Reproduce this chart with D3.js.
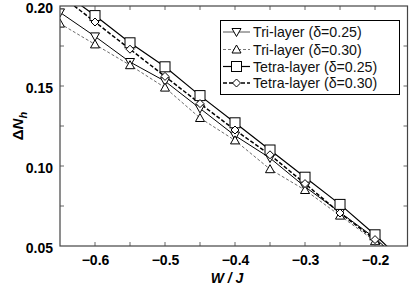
<!DOCTYPE html>
<html><head><meta charset="utf-8">
<script src="https://cdn.jsdelivr.net/npm/d3@7"></script>
<style>body{margin:0;background:#fff}svg{display:block}text{font-family:"Liberation Sans",Arial,sans-serif}</style>
</head><body><svg id="c" width="409" height="287"></svg>
<script>
const W = [-0.65,-0.6,-0.55,-0.5,-0.45,-0.4,-0.35,-0.3,-0.25,-0.2,-0.15];
const triA = [0.196,0.181,0.165,0.153,0.136,0.119,0.105,0.087,0.071,0.055,0.035];
const triB = [0.189,0.176,0.163,0.149,0.130,0.116,0.098,0.085,0.069,0.053,0.034];
const tetA = [0.210,0.194,0.177,0.162,0.144,0.127,0.110,0.093,0.076,0.057,0.036];
const tetB = [0.207,0.190,0.173,0.156,0.139,0.1225,0.107,0.089,0.0706,0.054,0.034];
const seriesNames = ["Tri-layer (δ=0.25)","Tri-layer (δ=0.30)","Tetra-layer (δ=0.25)","Tetra-layer (δ=0.30)"];
const xTicks = [-0.6,-0.5,-0.4,-0.3,-0.2];
const yTicks = [0.05,0.10,0.15,0.20];

const svg = d3.select("#c");
const L=60,R=407.5,T=6,B=246;
const x = d3.scaleLinear().domain([-0.65,-0.1536]).range([L,R]);
const y = d3.scaleLinear().domain([0.05,0.20]).range([B,T]);

const styles = [
 {vals:triA, stroke:"#000", w:1, dash:null, sym:"down"},
 {vals:triB, stroke:"#444", w:0.8, dash:"3,2", sym:"up"},
 {vals:tetA, stroke:"#000", w:1.2, dash:null, sym:"square"},
 {vals:tetB, stroke:"#000", w:1.5, dash:"4,2", sym:"diamond"}
];

svg.append("defs").append("clipPath").attr("id","clip").append("rect")
  .attr("x",L).attr("y",T).attr("width",R-L).attr("height",B-T);

function marker(g, sym, cx, cy){
  if(sym==="square") g.append("rect").attr("x",cx-5).attr("y",cy-5).attr("width",10).attr("height",10);
  else if(sym==="down") g.append("path").attr("d",`M${cx-4.5},${cy-3.5}L${cx+4.5},${cy-3.5}L${cx},${cy+4.5}Z`);
  else if(sym==="up") g.append("path").attr("d",`M${cx-4.5},${cy+3.5}L${cx+4.5},${cy+3.5}L${cx},${cy-4.5}Z`);
  else g.append("path").attr("d",`M${cx},${cy-4}L${cx+4},${cy}L${cx},${cy+4}L${cx-4},${cy}Z`);
}

const plot = svg.append("g").attr("clip-path","url(#clip)");
const line = d3.line().x((d,i)=>x(W[i])).y(d=>y(d));
styles.forEach(s=>{
  plot.append("path").datum(s.vals).attr("d",line).attr("fill","none")
    .attr("stroke",s.stroke).attr("stroke-width",s.w).attr("stroke-dasharray",s.dash);
});
styles.forEach(s=>{
  const g = plot.append("g").attr("fill","#fff").attr("stroke","#000").attr("stroke-width",1);
  s.vals.forEach((v,i)=>{ if(W[i]<=-0.2+1e-9) marker(g,s.sym,x(W[i]),y(v)); });
});

// axes
const ax = svg.append("g");
const xb = ax.append("g").attr("transform",`translate(0,${B})`).call(d3.axisBottom(x).tickValues(xTicks).tickSize(0).tickPadding(9).tickFormat(d3.format(".1f")));
const yl = ax.append("g").attr("transform",`translate(${L},0)`).call(d3.axisLeft(y).tickValues(yTicks).tickSize(0).tickPadding(7).tickFormat(d3.format(".2f")));
[xb,yl].forEach(g=>{g.select(".domain").remove();g.selectAll("text").attr("font-size",14).attr("font-weight","bold").attr("fill","#000");});
yl.selectAll("text").attr("dy","0.45em");
// inward ticks
const xt = d3.range(-0.6,-0.15,0.05).map(v=>+v.toFixed(2));
const yt = [0.075,0.10,0.125,0.15,0.175];
const tg = svg.append("g").attr("stroke","#666").attr("stroke-width",1);
xt.forEach(v=>{ tg.append("line").attr("x1",x(v)).attr("x2",x(v)).attr("y1",B).attr("y2",B-4);
  tg.append("line").attr("x1",x(v)).attr("x2",x(v)).attr("y1",T).attr("y2",T+4);});
yt.forEach(v=>{ tg.append("line").attr("y1",y(v)).attr("y2",y(v)).attr("x1",L).attr("x2",L+4);
  tg.append("line").attr("y1",y(v)).attr("y2",y(v)).attr("x1",R).attr("x2",R-4);});
svg.append("rect").attr("x",L).attr("y",T).attr("width",R-L).attr("height",B-T)
  .attr("fill","none").attr("stroke","#444").attr("stroke-width",1.2);

// axis labels
svg.append("text").attr("x",227).attr("y",283).attr("text-anchor","middle")
  .attr("font-size",14).attr("font-weight","bold").attr("font-style","italic").text("W / J");
const yt2 = svg.append("text").attr("transform","translate(23,126) rotate(-90)").attr("text-anchor","middle")
  .attr("font-size",15).attr("font-weight","bold");
yt2.append("tspan").text("Δ");
yt2.append("tspan").attr("font-style","italic").text("N");
yt2.append("tspan").attr("font-style","italic").attr("font-size",11).attr("dy",4).text("h");

// legend
const lg = svg.append("g");
lg.append("rect").attr("x",220.5).attr("y",20.5).attr("width",179).attr("height",74)
  .attr("fill","#fff").attr("stroke","#000").attr("stroke-width",1);
const rows=[32,49.5,66.5,83];
styles.forEach((s,i)=>{
  lg.append("line").attr("x1",223).attr("x2",250).attr("y1",rows[i]).attr("y2",rows[i])
    .attr("stroke",i<2?"#555":"#000").attr("stroke-width",s.w).attr("stroke-dasharray",s.dash);
  const g = lg.append("g").attr("fill","#fff").attr("stroke","#000");
  marker(g,s.sym,236.5,rows[i]);
  lg.append("text").attr("x",253).attr("y",rows[i]+5).attr("font-size",14.2).attr("fill","#111").text(seriesNames[i]);
});
</script></body></html>
